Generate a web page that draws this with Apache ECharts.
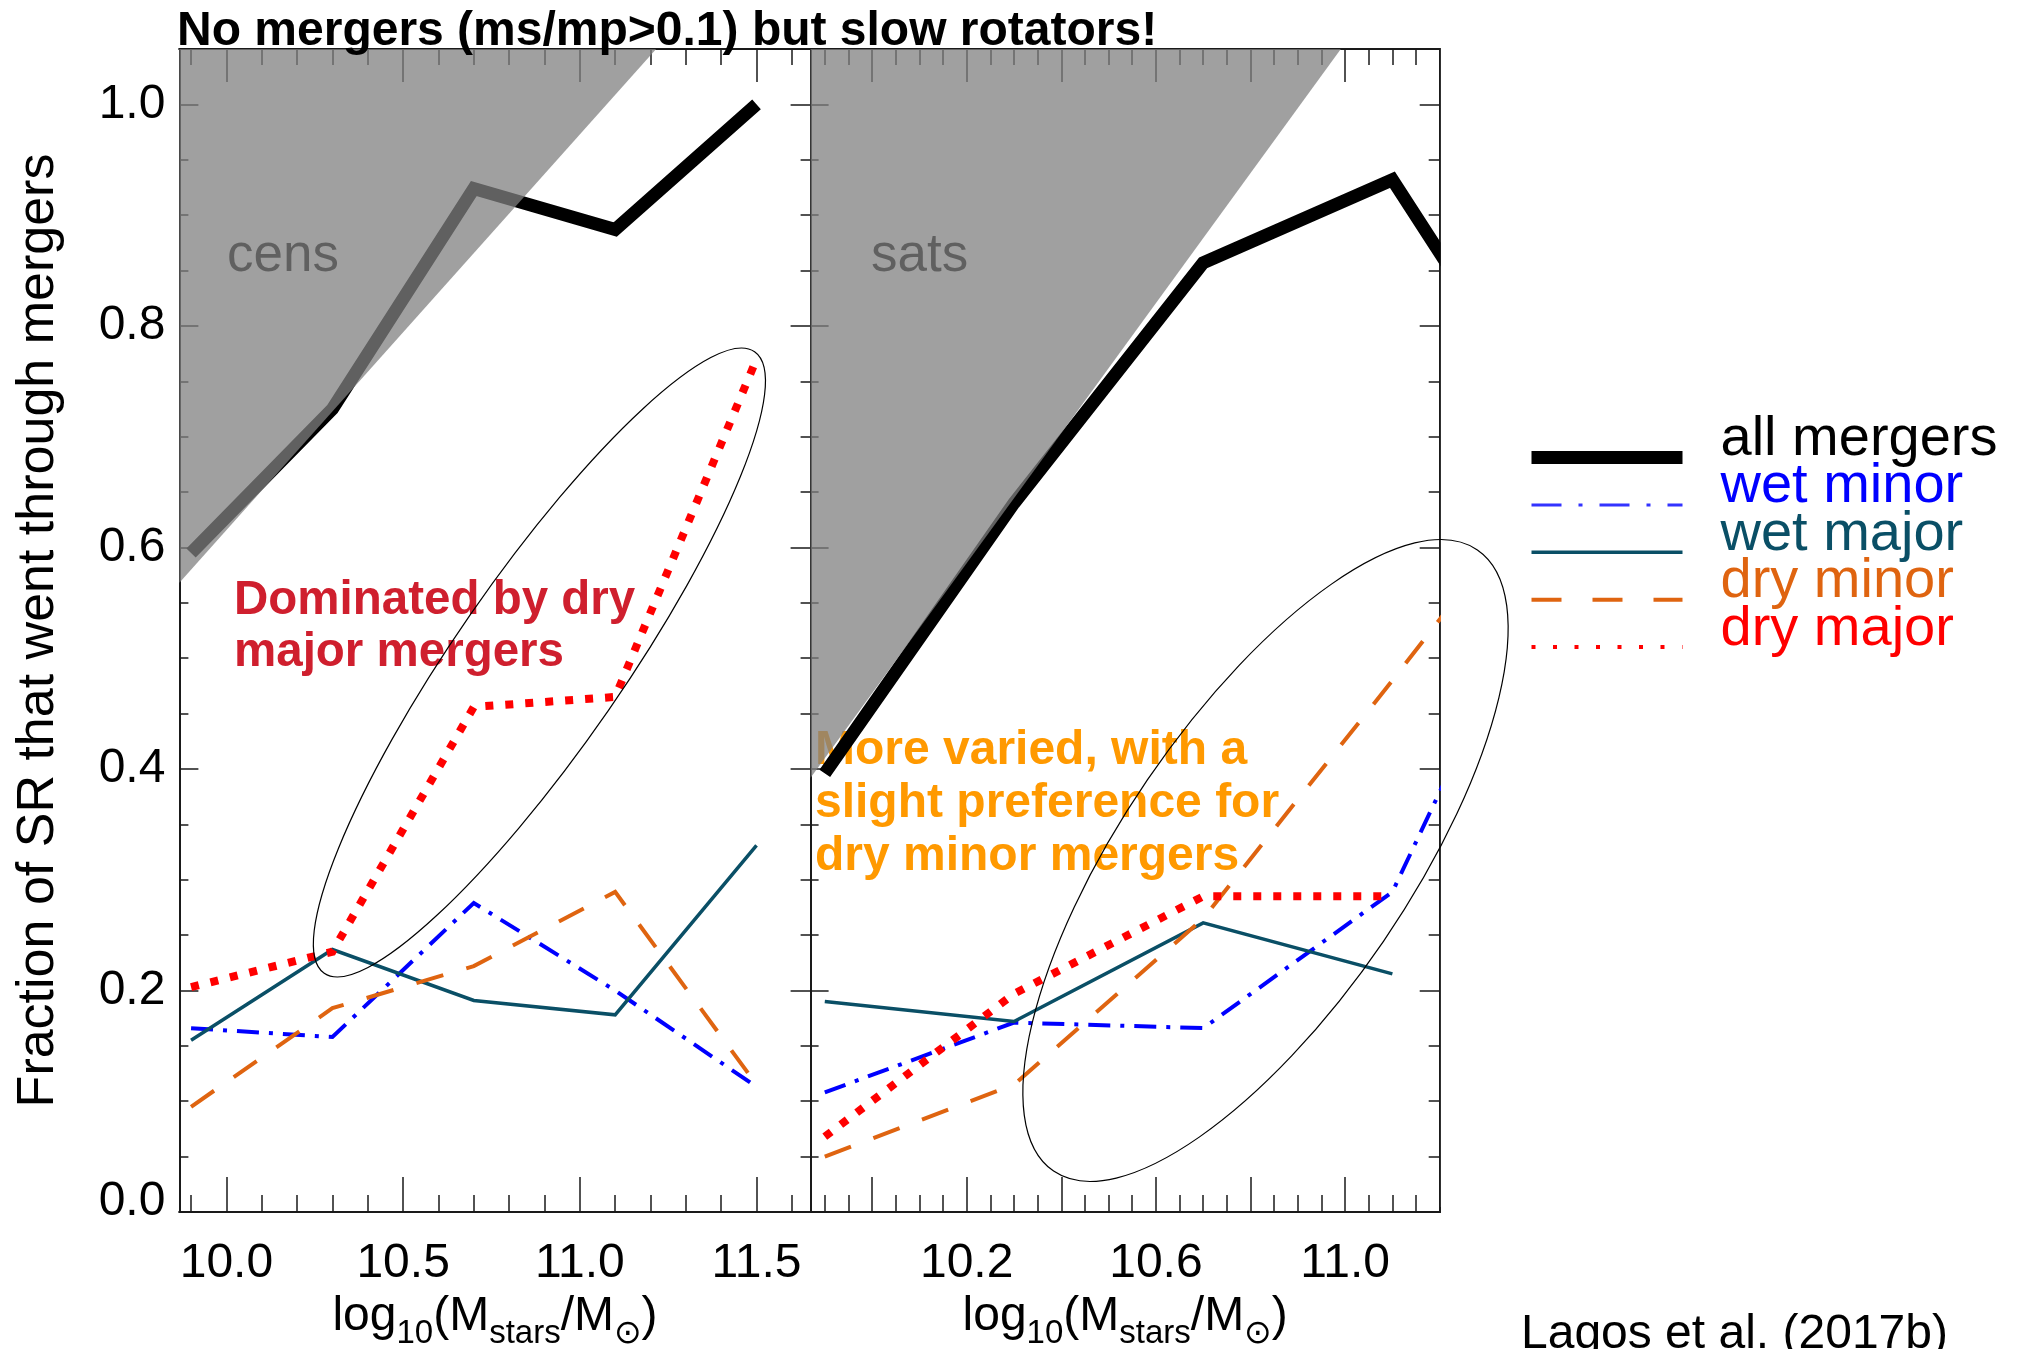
<!DOCTYPE html>
<html><head><meta charset="utf-8">
<script src="https://cdn.jsdelivr.net/npm/echarts@6/dist/echarts.min.js"></script>
<style>html,body{margin:0;padding:0;background:#fff}#c{width:2017px;height:1349px}</style>
</head><body><div id="c"></div>
<script>
// ---------- data ----------
const massBins     = [9.9, 10.3, 10.7, 11.1, 11.5];
const censAll      = [0.595, 0.725, 0.924, 0.887, 1.000];
const censWetMinor = [0.166, 0.158, 0.279, 0.200, 0.113];
const censWetMajor = [0.155, 0.237, 0.191, 0.178, 0.331];
const censDryMinor = [0.095, 0.184, 0.222, 0.289, 0.115];
const censDryMajor = [0.203, 0.235, 0.456, 0.465, 0.770];
const satsAll      = [0.396, 0.640, 0.857, 0.932, 0.668];
const satsWetMinor = [0.108, 0.171, 0.166, 0.289, 0.650];
const satsWetMajor = [0.190, 0.172, 0.261, 0.215];
const satsDryMinor = [0.050, 0.115, 0.265, 0.480, 0.700];
const satsDryMajor = [0.068, 0.197, 0.285, 0.285];
// grey (excluded) regions, in data coordinates
const censShade = [[9.867, 1.05], [11.216, 1.05], [9.867, 0.568]];
const satsShade = [[9.87, 1.05], [10.991, 1.05], [9.87, 0.392]];
// axes
const censXRange = [9.867, 11.653];
const satsXRange = [9.87, 11.2];
const yRange = [0, 1.05];
const censXMajor = [10.0, 10.5, 11.0, 11.5];
const censXLabels = [10.0, 10.5, 11.0, 11.5];
const censXMinor = [9.9, 10.1, 10.2, 10.3, 10.4, 10.6, 10.7, 10.8, 10.9, 11.1, 11.2, 11.3, 11.4, 11.6];
const satsXMajor = [10.0, 10.2, 10.4, 10.6, 10.8, 11.0];
const satsXLabels = [10.2, 10.6, 11.0];
const satsXMinor = [9.9, 9.95, 10.05, 10.1, 10.15, 10.25, 10.3, 10.35, 10.45, 10.5, 10.55, 10.65, 10.7, 10.75, 10.85, 10.9, 10.95, 11.05, 11.1, 11.15];
const yMajor = [0, 0.2, 0.4, 0.6, 0.8, 1.0];
const yMinor = [0.05, 0.1, 0.15, 0.25, 0.3, 0.35, 0.45, 0.5, 0.55, 0.65, 0.7, 0.75, 0.85, 0.9, 0.95];
const seriesNames = ['all mergers', 'wet minor', 'wet major', 'dry minor', 'dry major'];
const titleText = 'No mergers (ms/mp>0.1) but slow rotators!';
const yName = 'Fraction of SR that went through mergers';
const xName = '{m|log}{s|10}{m|(M}{s|stars}{m|/M}{s|⊙}{m|)}';

// ---------- styles ----------
const FONT = '"Liberation Sans", "DejaVu Sans", Arial, sans-serif';
const AX = '#1a1a1a';
const lineStyles = [
  {color: '#000000', width: 13, type: 'solid', join: 'miter'},
  {color: '#0000ff', width: 4, type: [22, 10, 4, 10]},
  {color: '#0a4f66', width: 3.5, type: 'solid'},
  {color: '#df6410', width: 4, type: [28, 24]},
  {color: '#ff0000', width: 8, type: [8, 12]}
];
const legendLine = [
  {color: '#000000', width: 13, type: 'solid'},
  {color: '#3333ff', width: 3, type: [30, 17, 4, 17]},
  {color: '#0a4f66', width: 3.5, type: 'solid'},
  {color: '#df6410', width: 4, type: [30, 31]},
  {color: '#ff0000', width: 4, type: [4, 17.5]}
];
const legendText = ['#000000', '#0000ff', '#0a4f66', '#df6410', '#ff0000'];

const gridL = {left: 179.4, top: 49, width: 631.2, height: 1163, containLabel: false, outerBoundsMode: 'none'};
const gridR = {left: 810.6, top: 49, width: 629.1, height: 1163, containLabel: false, outerBoundsMode: 'none'};

function xAx(gi, range, pos, ticks, len, labels, name) {
  return {
    type: 'value', gridIndex: gi, min: range[0], max: range[1], position: pos,
    splitLine: {show: false}, minorTick: {show: false},
    axisLine: {show: true, onZero: false, lineStyle: {color: AX, width: 2}},
    axisTick: {show: true, inside: true, length: len, customValues: ticks, lineStyle: {color: AX, width: 1.5}},
    axisLabel: labels ? {show: true, customValues: labels, margin: 28, color: '#000', fontFamily: FONT, fontSize: 48,
      formatter: v => v.toFixed(1)} : {show: false},
    name: name || '', nameLocation: 'middle', nameGap: 77,
    nameTextStyle: {color: '#000', fontFamily: FONT,
      rich: {m: {fontSize: 48, lineHeight: 48, verticalAlign: 'top', fontFamily: FONT, color: '#000'},
             s: {fontSize: 33, lineHeight: 33, padding: [25, 0, 0, 0], verticalAlign: 'top', fontFamily: FONT, color: '#000'}}}
  };
}
function yAx(gi, pos, ticks, len, labels, name) {
  return {
    type: 'value', gridIndex: gi, min: yRange[0], max: yRange[1], position: pos,
    splitLine: {show: false}, minorTick: {show: false},
    axisLine: {show: true, onZero: false, lineStyle: {color: AX, width: 2}},
    axisTick: {show: true, inside: true, length: len, customValues: ticks, lineStyle: {color: AX, width: 1.5}},
    axisLabel: labels ? {show: true, customValues: labels, margin: 14, color: '#000', fontFamily: FONT, fontSize: 48,
      formatter: v => v === 0 ? '{lo|0.0}' : v.toFixed(1),
      rich: {lo: {fontSize: 48, fontFamily: FONT, color: '#000', padding: [0, 0, 20, 0]}}} : {show: false},
    name: name || '', nameLocation: 'middle', nameGap: 115, nameRotate: 90,
    nameTextStyle: {color: '#000', fontFamily: FONT, fontSize: 52}
  };
}

const xAxis = [
  xAx(0, censXRange, 'bottom', censXMajor, 35, censXLabels, xName),
  xAx(0, censXRange, 'bottom', censXMinor, 17, null),
  xAx(0, censXRange, 'top', censXMajor, 33, null),
  xAx(0, censXRange, 'top', censXMinor, 16, null),
  xAx(1, satsXRange, 'bottom', satsXMajor, 35, satsXLabels, xName),
  xAx(1, satsXRange, 'bottom', satsXMinor, 17, null),
  xAx(1, satsXRange, 'top', satsXMajor, 33, null),
  xAx(1, satsXRange, 'top', satsXMinor, 16, null)
];
const yAxis = [
  yAx(0, 'left', yMajor, 19, yMajor, yName),
  yAx(0, 'left', yMinor, 9, null),
  yAx(0, 'right', yMajor, 20, null),
  yAx(0, 'right', yMinor, 10, null),
  yAx(1, 'left', yMajor, 18, null),
  yAx(1, 'left', yMinor, 8, null),
  yAx(1, 'right', yMajor, 20, null),
  yAx(1, 'right', yMinor, 11, null)
];

function lineSeries(name, idx, ys, axisIdx) {
  return {
    type: 'line', name: name, xAxisIndex: axisIdx, yAxisIndex: axisIdx,
    data: ys.map((v, i) => [massBins[i], v]),
    symbol: 'none', showSymbol: false, clip: true, z: 2, silent: true, animation: false,
    lineStyle: Object.assign({cap: 'butt', join: 'miter'}, lineStyles[idx]),
    itemStyle: {color: lineStyles[idx].color}
  };
}
function shadeSeries(pts, axisIdx) {
  return {
    type: 'custom', xAxisIndex: axisIdx, yAxisIndex: axisIdx, z: 3, silent: true, animation: false,
    data: [pts[0]],
    renderItem: (params, api) => ({
      type: 'polygon',
      shape: {points: pts.map(p => api.coord(p))},
      style: {fill: 'rgba(128,128,128,0.75)'}
    })
  };
}
const censSets = [censAll, censWetMinor, censWetMajor, censDryMinor, censDryMajor];
const satsSets = [satsAll, satsWetMinor, satsWetMajor, satsDryMinor, satsDryMajor];
const series = [];
censSets.forEach((ys, i) => series.push(lineSeries(seriesNames[i], i, ys, 0)));
satsSets.forEach((ys, i) => series.push(lineSeries(seriesNames[i], i, ys, 4)));
series.push(shadeSeries(censShade, 0));
series.push(shadeSeries(satsShade, 4));

const deg = Math.PI / 180;
const frameRight = gridR.left + gridR.width;
const legendRich = c => ({t: {color: c, fontFamily: FONT, fontSize: 56, lineHeight: 46, padding: [0, 0, 36, 33]}});
const option = {
  animation: false,
  backgroundColor: '#ffffff',
  grid: [gridL, gridR],
  xAxis: xAxis,
  yAxis: yAxis,
  legend: {
    orient: 'vertical', left: 1525, top: 411.5, padding: 0,
    itemWidth: 151, itemHeight: 14, itemGap: -44.6,
    selectedMode: false,
    itemStyle: {opacity: 0},
    formatter: n => '{t|' + n + '}',
    textStyle: {fontFamily: FONT, fontSize: 56, rich: legendRich('#000')},
    data: seriesNames.map((n, i) => ({
      name: n, textStyle: {color: legendText[i], rich: legendRich(legendText[i])},
      lineStyle: {color: legendLine[i].color, width: legendLine[i].width, type: legendLine[i].type, cap: 'butt'}
    }))
  },
  series: series,
  graphic: [
    // mask so thick lines stop at the right frame, as in the original plot
    {type: 'rect', z: 5, silent: true, shape: {x: frameRight + 1.2, y: gridR.top - 10, width: 40, height: gridR.height + 5}, style: {fill: '#ffffff'}},
    {type: 'text', x: 177, y: 32, z: 20, style: {text: titleText, fill: '#000', font: 'bold 48px ' + FONT, verticalAlign: 'middle'}},
    {type: 'text', x: 227, y: 256, z: 1, style: {text: 'cens', fill: '#000', font: '53px ' + FONT, verticalAlign: 'middle'}},
    {type: 'text', x: 871, y: 256, z: 1, style: {text: 'sats', fill: '#000', font: '53px ' + FONT, verticalAlign: 'middle'}},
    {type: 'text', x: 234, y: 627, z: 1, style: {text: 'Dominated by dry\nmajor mergers', fill: '#cf1f2e', font: 'bold 47.5px ' + FONT, lineHeight: 52, verticalAlign: 'middle'}},
    {type: 'text', x: 815, y: 804, z: 1, style: {text: 'More varied, with a\nslight preference for\ndry minor mergers', fill: '#ff9900', font: 'bold 48px ' + FONT, lineHeight: 53, verticalAlign: 'middle'}},
    {type: 'text', x: 1521, y: 1335, z: 1, style: {text: 'Lagos et al. (2017b)', fill: '#000', font: '48px ' + FONT, verticalAlign: 'middle'}},
    {type: 'ellipse', x: 539.4, y: 662.5, rotation: 55.3 * deg, z: 10, silent: true,
      shape: {cx: 0, cy: 0, rx: 378, ry: 84}, style: {fill: 'none', stroke: '#000', lineWidth: 1.2}},
    {type: 'ellipse', x: 1265.5, y: 860.5, rotation: 55.7 * deg, z: 10, silent: true,
      shape: {cx: 0, cy: 0, rx: 376, ry: 143}, style: {fill: 'none', stroke: '#000', lineWidth: 1.2}}
  ]
};
const chart = echarts.init(document.getElementById('c'), null, {renderer: 'canvas'});
chart.setOption(option);
</script></body></html>
